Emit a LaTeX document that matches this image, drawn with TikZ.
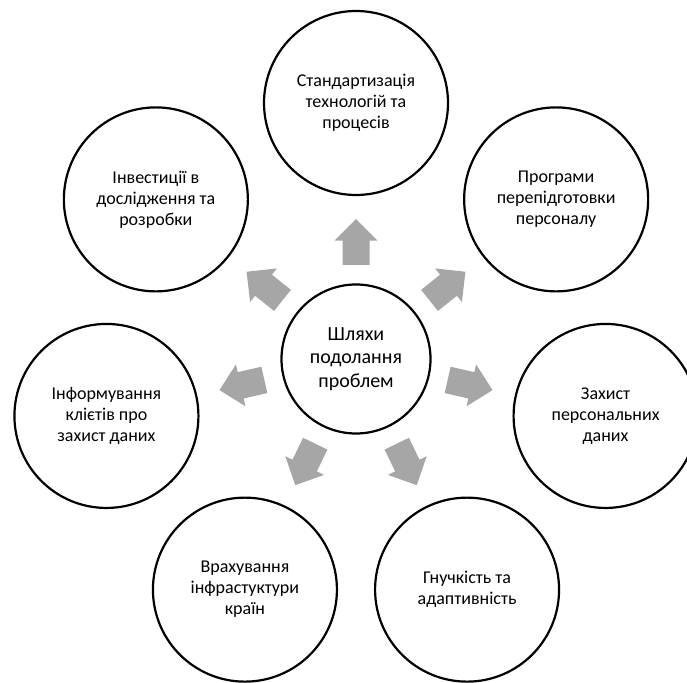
\documentclass[tikz,border=0pt]{standalone}
\usepackage{fontspec}
\setmainfont{Carlito}
\definecolor{arrowgray}{HTML}{A6A6A6}
\tikzset{
  hub/.style={circle, draw=black, line width=2.2pt, fill=white, minimum size=149pt,
    inner sep=0pt, align=center, font=\fontsize{20}{23.5}\selectfont},
  leaf/.style={circle, draw=black, line width=2.2pt, fill=white, minimum size=184pt,
    inner sep=0pt, align=center, font=\fontsize{18}{21}\selectfont},
  blockarrow/.style={fill=arrowgray}
}
\begin{document}
\begin{tikzpicture}[x=1pt,y=1pt]
  \useasboundingbox (0,0) rectangle (687,682);
  \clip (0,0) rectangle (687,682);

  % central idea
  \node[hub] (c) at (356,323) {Шляхи\\подолання\\проблем};

  % seven ways around it, evenly spaced
  \foreach \i/\a/\txt in {
    1/90/{Стандартизація\\технологій та\\процесів},
    2/38.571/{Програми\\перепідготовки\\персоналу},
    3/-12.857/{Захист\\персональних\\даних},
    4/-64.286/{Гнучкість та\\адаптивність},
    5/-115.714/{Врахування\\інфрастуктури\\країн},
    6/-167.143/{Інформування\\клієтів про\\захист даних},
    7/141.429/{Інвестиції в\\дослідження та\\розробки}} {
    \node[leaf] (o\i) at ([shift={(\a:256)}]c) {\txt};
    % block arrow from the centre towards the outer circle
    \begin{scope}[shift={(c)}, rotate=\a]
      \fill[blockarrow] (94,-13.5) -- (118.3,-13.5) -- (118.3,-21.5) -- (140,0)
        -- (118.3,21.5) -- (118.3,13.5) -- (94,13.5) -- cycle;
    \end{scope}
  }
\end{tikzpicture}
\end{document}
